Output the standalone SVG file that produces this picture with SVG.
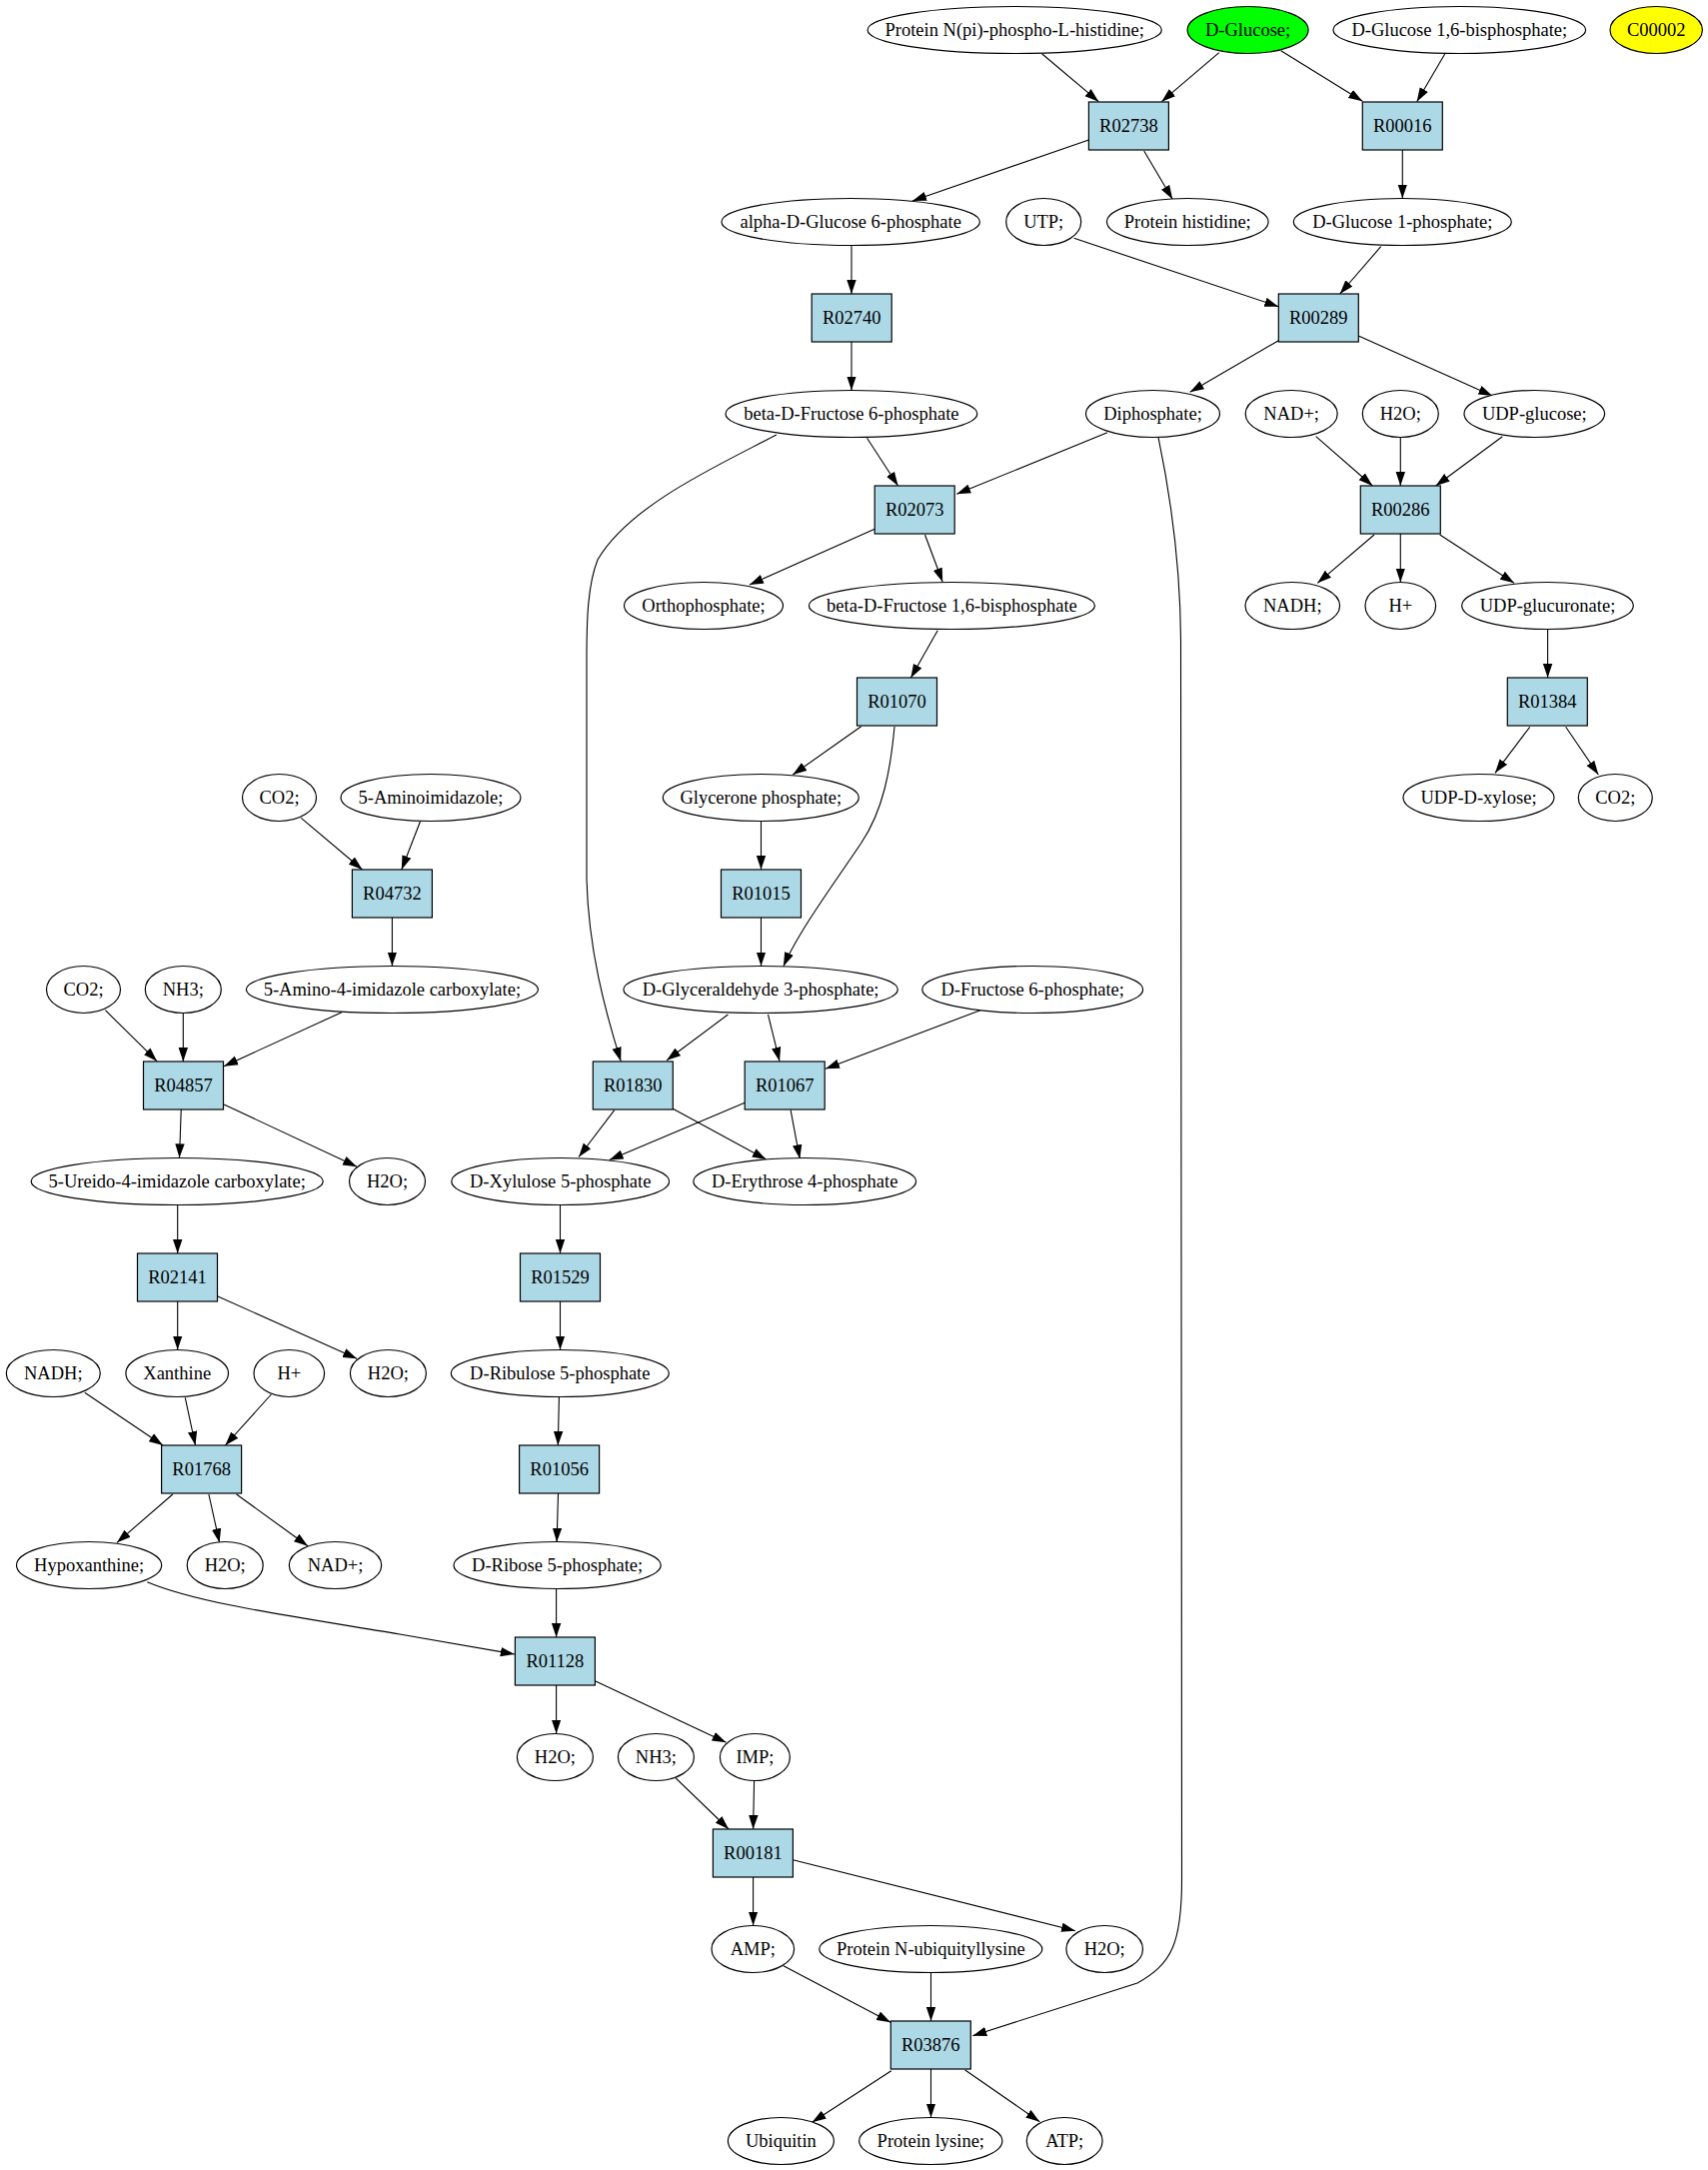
<svg xmlns="http://www.w3.org/2000/svg" width="1709" height="2171" viewBox="0 0 1709 2171">
<style>
  .c ellipse { fill: #ffffff; stroke: #000000; stroke-width: 1.2; }
  .r rect { fill: #add8e6; stroke: #000000; stroke-width: 1.2; }
  text { font-family: "Liberation Serif", "Times New Roman", serif; font-size: 18.5px; text-anchor: middle; fill: #000000; }
  #edges path { fill: none; stroke: #000000; stroke-width: 1.1; marker-end: url(#arrow); }
</style>
<defs>
  <marker id="arrow" viewBox="0 0 14 10" refX="14" refY="5" markerWidth="14" markerHeight="10" markerUnits="userSpaceOnUse" orient="auto">
    <path d="M0,0.3 L14,5 L0,9.7 z" fill="#000000"/>
  </marker>
</defs>
<rect x="0" y="0" width="1709" height="2171" fill="#ffffff"/>

<g id="edges">
  <path d="M1042.8,54 L1099.3,101.7"/>
  <path d="M1219.8,52.7 L1162.3,101.7"/>
  <path d="M1281.7,50.7 L1363.3,101.3"/>
  <path d="M1445.7,54 L1417.7,101.7"/>
  <path d="M1089.4,140 L913,201"/>
  <path d="M1144.7,151 L1173.2,199.3"/>
  <path d="M1403.3,150 L1403.3,198.5"/>
  <path d="M852,246 L852,294"/>
  <path d="M1074.6,238.3 L1279.3,306.7"/>
  <path d="M1381.7,246.7 L1340.7,294"/>
  <path d="M852,342 L852,390.5"/>
  <path d="M1279.3,340.7 L1190.7,392.3"/>
  <path d="M1359.3,336 L1493.3,396"/>
  <path d="M867.5,438.3 L898.6,486"/>
  <path d="M1108,432.7 L957.3,494.3"/>
  <path d="M776.9,435 C720,465 630,505 598,560 C588,585 587,620 587,660 L587,880 C589,950 605,1010 621.2,1061.7"/>
  <path d="M1159,437.3 C1170,490 1181,560 1181.5,640 L1182.5,1880 C1182.5,1945 1172,1965 1138,1984 L973.3,2036.7"/>
  <path d="M1316.7,436.7 L1373.3,486"/>
  <path d="M1401.3,438 L1401.3,486"/>
  <path d="M1503.3,436.7 L1436.7,486"/>
  <path d="M875.2,529.3 L750,585"/>
  <path d="M925.5,535 L943.2,582.3"/>
  <path d="M1375,535 L1318.3,583.3"/>
  <path d="M1401.3,534 L1401.3,582.5"/>
  <path d="M1440.7,535 L1515,583.3"/>
  <path d="M938.2,630.7 L911.3,678.3"/>
  <path d="M1548.6,629.5 L1548.6,678"/>
  <path d="M861.7,726.7 L793.3,775"/>
  <path d="M895,727 C891,770 884,810 862,843 C840,876 800,930 783.9,966.7"/>
  <path d="M1530.7,727.3 L1496,773.3"/>
  <path d="M1566.7,727.3 L1599.3,775"/>
  <path d="M301.3,818.3 L362.5,870"/>
  <path d="M420.5,821.7 L401.8,870"/>
  <path d="M761.5,822 L761.5,870"/>
  <path d="M392.4,918 L392.4,966.5"/>
  <path d="M761.5,918 L761.5,966.5"/>
  <path d="M105.4,1010.7 L157.1,1061.7"/>
  <path d="M183.3,1014 L183.3,1062"/>
  <path d="M342,1012.7 L224.1,1066.7"/>
  <path d="M728.4,1015 L667.1,1060.7"/>
  <path d="M768.5,1015 L780,1061.7"/>
  <path d="M980.9,1010.7 L826,1069.3"/>
  <path d="M181.25,1110 L179.5,1158.3"/>
  <path d="M224.1,1105 L357.1,1167.3"/>
  <path d="M614.7,1110.7 L579.1,1157.5"/>
  <path d="M673.3,1109.3 L766.6,1160"/>
  <path d="M745.2,1103.3 L609.7,1160.5"/>
  <path d="M791.1,1110.7 L800.3,1159.3"/>
  <path d="M177.7,1206 L177.7,1254"/>
  <path d="M560.5,1206 L560.5,1254"/>
  <path d="M177.7,1302 L177.7,1350.5"/>
  <path d="M217.4,1296.7 L357.1,1359.3"/>
  <path d="M560.5,1302 L560.5,1350.5"/>
  <path d="M84.8,1393.3 L163,1446"/>
  <path d="M185.3,1398.3 L195.5,1446"/>
  <path d="M271.4,1395 L225.4,1446"/>
  <path d="M559.4,1398 L558.3,1446"/>
  <path d="M172.8,1495 L117,1543.3"/>
  <path d="M208.9,1495 L219.6,1543.3"/>
  <path d="M236.6,1495 L308,1546.7"/>
  <path d="M558.5,1494 L557.1,1542.7"/>
  <path d="M147.3,1582.7 C200,1605 300,1618 400,1635 L514.8,1655"/>
  <path d="M556.6,1590 L556.6,1638"/>
  <path d="M556.6,1686 L556.6,1734.5"/>
  <path d="M595.4,1681.7 L726.5,1743.3"/>
  <path d="M675.5,1778.3 L729.1,1830"/>
  <path d="M754.6,1781.7 L753.6,1830"/>
  <path d="M753.6,1878 L753.6,1926.5"/>
  <path d="M793.4,1860.7 L1076,1931.7"/>
  <path d="M783.9,1966.7 L891.1,2023.3"/>
  <path d="M931.5,1974 L931.5,2022"/>
  <path d="M891.8,2071.7 L812.6,2123.3"/>
  <path d="M931.5,2070 L931.5,2118.5"/>
  <path d="M965.7,2071 L1040.3,2122.7"/>
</g>

<g id="c_protein_npi" class="c"><ellipse cx="1015.2" cy="30" rx="147.1" ry="23.5"/><text x="1015.2" y="36">Protein N(pi)-phospho-L-histidine;</text></g>
<g id="c_dglucose" class="c"><ellipse cx="1248.6" cy="30" rx="60.5" ry="23.5" style="fill:#00ff00"/><text x="1248.6" y="36">D-Glucose;</text></g>
<g id="c_dglucose16bp" class="c"><ellipse cx="1460.3" cy="30" rx="126.3" ry="23.5"/><text x="1460.3" y="36">D-Glucose 1,6-bisphosphate;</text></g>
<g id="c_c00002" class="c"><ellipse cx="1657.2" cy="30" rx="46.2" ry="23.5" style="fill:#ffff00"/><text x="1657.2" y="36">C00002</text></g>

<g id="r_R02738" class="r"><rect x="1089.4" y="102" width="80" height="48"/><text x="1129.4" y="132">R02738</text></g>
<g id="r_R00016" class="r"><rect x="1363.3" y="102" width="80" height="48"/><text x="1403.3" y="132">R00016</text></g>

<g id="c_adg6p" class="c"><ellipse cx="851.2" cy="222" rx="129.2" ry="23.5"/><text x="851.2" y="228">alpha-D-Glucose 6-phosphate</text></g>
<g id="c_utp" class="c"><ellipse cx="1044.2" cy="222" rx="37.5" ry="23.5"/><text x="1044.2" y="228">UTP;</text></g>
<g id="c_protein_his" class="c"><ellipse cx="1188.3" cy="222" rx="80.8" ry="23.5"/><text x="1188.3" y="228">Protein histidine;</text></g>
<g id="c_dg1p" class="c"><ellipse cx="1403.3" cy="222" rx="109" ry="23.5"/><text x="1403.3" y="228">D-Glucose 1-phosphate;</text></g>

<g id="r_R02740" class="r"><rect x="812.2" y="294" width="80" height="48"/><text x="852.2" y="324">R02740</text></g>
<g id="r_R00289" class="r"><rect x="1279.3" y="294" width="80" height="48"/><text x="1319.3" y="324">R00289</text></g>

<g id="c_bdf6p" class="c"><ellipse cx="851.9" cy="414" rx="125.9" ry="23.5"/><text x="851.9" y="420">beta-D-Fructose 6-phosphate</text></g>
<g id="c_diphosphate" class="c"><ellipse cx="1153.5" cy="414" rx="67" ry="23.5"/><text x="1153.5" y="420">Diphosphate;</text></g>
<g id="c_nadp1" class="c"><ellipse cx="1292.2" cy="414" rx="46" ry="23.5"/><text x="1292.2" y="420">NAD+;</text></g>
<g id="c_h2o1" class="c"><ellipse cx="1401.3" cy="414" rx="38" ry="23.5"/><text x="1401.3" y="420">H2O;</text></g>
<g id="c_udpglucose" class="c"><ellipse cx="1535.3" cy="414" rx="70.3" ry="23.5"/><text x="1535.3" y="420">UDP-glucose;</text></g>

<g id="r_R02073" class="r"><rect x="875.2" y="486" width="80" height="48"/><text x="915.2" y="516">R02073</text></g>
<g id="r_R00286" class="r"><rect x="1361.3" y="486" width="80" height="48"/><text x="1401.3" y="516">R00286</text></g>

<g id="c_orthophosphate" class="c"><ellipse cx="704" cy="606" rx="79.5" ry="23.5"/><text x="704" y="612">Orthophosphate;</text></g>
<g id="c_bdf16bp" class="c"><ellipse cx="952.4" cy="606" rx="143" ry="23.5"/><text x="952.4" y="612">beta-D-Fructose 1,6-bisphosphate</text></g>
<g id="c_nadh1" class="c"><ellipse cx="1293.3" cy="606" rx="47.3" ry="23.5"/><text x="1293.3" y="612">NADH;</text></g>
<g id="c_hplus1" class="c"><ellipse cx="1401.3" cy="606" rx="35.3" ry="23.5"/><text x="1401.3" y="612">H+</text></g>
<g id="c_udpglucuronate" class="c"><ellipse cx="1548.5" cy="606" rx="85.8" ry="23.5"/><text x="1548.5" y="612">UDP-glucuronate;</text></g>

<g id="r_R01070" class="r"><rect x="857.5" y="678" width="80" height="48"/><text x="897.5" y="708">R01070</text></g>
<g id="r_R01384" class="r"><rect x="1508.3" y="678" width="80" height="48"/><text x="1548.3" y="708">R01384</text></g>

<g id="c_co2_1" class="c"><ellipse cx="279.5" cy="798" rx="37" ry="23.5"/><text x="279.5" y="804">CO2;</text></g>
<g id="c_5aminoimidazole" class="c"><ellipse cx="431" cy="798" rx="90" ry="23.5"/><text x="431" y="804">5-Aminoimidazole;</text></g>
<g id="c_glycerone" class="c"><ellipse cx="761.3" cy="798" rx="98" ry="23.5"/><text x="761.3" y="804">Glycerone phosphate;</text></g>
<g id="c_udpxylose" class="c"><ellipse cx="1479.5" cy="798" rx="75.5" ry="23.5"/><text x="1479.5" y="804">UDP-D-xylose;</text></g>
<g id="c_co2_2" class="c"><ellipse cx="1616.3" cy="798" rx="37" ry="23.5"/><text x="1616.3" y="804">CO2;</text></g>

<g id="r_R04732" class="r"><rect x="352.4" y="870" width="80" height="48"/><text x="392.4" y="900">R04732</text></g>
<g id="r_R01015" class="r"><rect x="721.5" y="870" width="80" height="48"/><text x="761.5" y="900">R01015</text></g>

<g id="c_co2_3" class="c"><ellipse cx="83.5" cy="990" rx="37" ry="23.5"/><text x="83.5" y="996">CO2;</text></g>
<g id="c_nh3_1" class="c"><ellipse cx="183.3" cy="990" rx="38" ry="23.5"/><text x="183.3" y="996">NH3;</text></g>
<g id="c_5a4ic" class="c"><ellipse cx="392.4" cy="990" rx="146" ry="23.5"/><text x="392.4" y="996">5-Amino-4-imidazole carboxylate;</text></g>
<g id="c_dga3p" class="c"><ellipse cx="761.1" cy="990" rx="137.2" ry="23.5"/><text x="761.1" y="996">D-Glyceraldehyde 3-phosphate;</text></g>
<g id="c_df6p" class="c"><ellipse cx="1033.2" cy="990" rx="110.4" ry="23.5"/><text x="1033.2" y="996">D-Fructose 6-phosphate;</text></g>

<g id="r_R04857" class="r"><rect x="143.5" y="1062" width="80" height="48"/><text x="183.5" y="1092">R04857</text></g>
<g id="r_R01830" class="r"><rect x="593.3" y="1062" width="80" height="48"/><text x="633.3" y="1092">R01830</text></g>
<g id="r_R01067" class="r"><rect x="745.2" y="1062" width="80" height="48"/><text x="785.2" y="1092">R01067</text></g>

<g id="c_5u4ic" class="c"><ellipse cx="177.2" cy="1182" rx="146" ry="23.5"/><text x="177.2" y="1188">5-Ureido-4-imidazole carboxylate;</text></g>
<g id="c_h2o2" class="c"><ellipse cx="387.5" cy="1182" rx="38" ry="23.5"/><text x="387.5" y="1188">H2O;</text></g>
<g id="c_dxyl5p" class="c"><ellipse cx="560.7" cy="1182" rx="108.9" ry="23.5"/><text x="560.7" y="1188">D-Xylulose 5-phosphate</text></g>
<g id="c_dery4p" class="c"><ellipse cx="805.2" cy="1182" rx="111.4" ry="23.5"/><text x="805.2" y="1188">D-Erythrose 4-phosphate</text></g>

<g id="r_R02141" class="r"><rect x="137.5" y="1254" width="80" height="48"/><text x="177.5" y="1284">R02141</text></g>
<g id="r_R01529" class="r"><rect x="520.5" y="1254" width="80" height="48"/><text x="560.5" y="1284">R01529</text></g>

<g id="c_nadh2" class="c"><ellipse cx="53.3" cy="1374" rx="47" ry="23.5"/><text x="53.3" y="1380">NADH;</text></g>
<g id="c_xanthine" class="c"><ellipse cx="177.2" cy="1374" rx="51.3" ry="23.5"/><text x="177.2" y="1380">Xanthine</text></g>
<g id="c_hplus2" class="c"><ellipse cx="289.3" cy="1374" rx="35.3" ry="23.5"/><text x="289.3" y="1380">H+</text></g>
<g id="c_h2o3" class="c"><ellipse cx="388.4" cy="1374" rx="38" ry="23.5"/><text x="388.4" y="1380">H2O;</text></g>
<g id="c_dribu5p" class="c"><ellipse cx="560.3" cy="1374" rx="109" ry="23.5"/><text x="560.3" y="1380">D-Ribulose 5-phosphate</text></g>

<g id="r_R01768" class="r"><rect x="161.6" y="1446" width="80" height="48"/><text x="201.6" y="1476">R01768</text></g>
<g id="r_R01056" class="r"><rect x="519.6" y="1446" width="80" height="48"/><text x="559.6" y="1476">R01056</text></g>

<g id="c_hypoxanthine" class="c"><ellipse cx="89.1" cy="1566" rx="72.6" ry="23.5"/><text x="89.1" y="1572">Hypoxanthine;</text></g>
<g id="c_h2o4" class="c"><ellipse cx="225.2" cy="1566" rx="38" ry="23.5"/><text x="225.2" y="1572">H2O;</text></g>
<g id="c_nadp2" class="c"><ellipse cx="335.5" cy="1566" rx="46.2" ry="23.5"/><text x="335.5" y="1572">NAD+;</text></g>
<g id="c_drib5p" class="c"><ellipse cx="557.6" cy="1566" rx="103.6" ry="23.5"/><text x="557.6" y="1572">D-Ribose 5-phosphate;</text></g>

<g id="r_R01128" class="r"><rect x="515.4" y="1638" width="80" height="48"/><text x="555.4" y="1668">R01128</text></g>

<g id="c_h2o5" class="c"><ellipse cx="555.4" cy="1758" rx="38" ry="23.5"/><text x="555.4" y="1764">H2O;</text></g>
<g id="c_nh3_2" class="c"><ellipse cx="656.4" cy="1758" rx="38" ry="23.5"/><text x="656.4" y="1764">NH3;</text></g>
<g id="c_imp" class="c"><ellipse cx="755.4" cy="1758" rx="35" ry="23.5"/><text x="755.4" y="1764">IMP;</text></g>

<g id="r_R00181" class="r"><rect x="713.4" y="1830" width="80" height="48"/><text x="753.4" y="1860">R00181</text></g>

<g id="c_amp" class="c"><ellipse cx="753.3" cy="1950" rx="41.3" ry="23.5"/><text x="753.3" y="1956">AMP;</text></g>
<g id="c_protein_nubl" class="c"><ellipse cx="931.3" cy="1950" rx="111.5" ry="23.5"/><text x="931.3" y="1956">Protein N-ubiquityllysine</text></g>
<g id="c_h2o6" class="c"><ellipse cx="1105.2" cy="1950" rx="38.3" ry="23.5"/><text x="1105.2" y="1956">H2O;</text></g>

<g id="r_R03876" class="r"><rect x="891.3" y="2022" width="80" height="48"/><text x="931.3" y="2052">R03876</text></g>

<g id="c_ubiquitin" class="c"><ellipse cx="781.4" cy="2142" rx="53" ry="23.5"/><text x="781.4" y="2148">Ubiquitin</text></g>
<g id="c_protein_lys" class="c"><ellipse cx="931.3" cy="2142" rx="71.6" ry="23.5"/><text x="931.3" y="2148">Protein lysine;</text></g>
<g id="c_atp" class="c"><ellipse cx="1065.2" cy="2142" rx="37.9" ry="23.5"/><text x="1065.2" y="2148">ATP;</text></g>
</svg>
